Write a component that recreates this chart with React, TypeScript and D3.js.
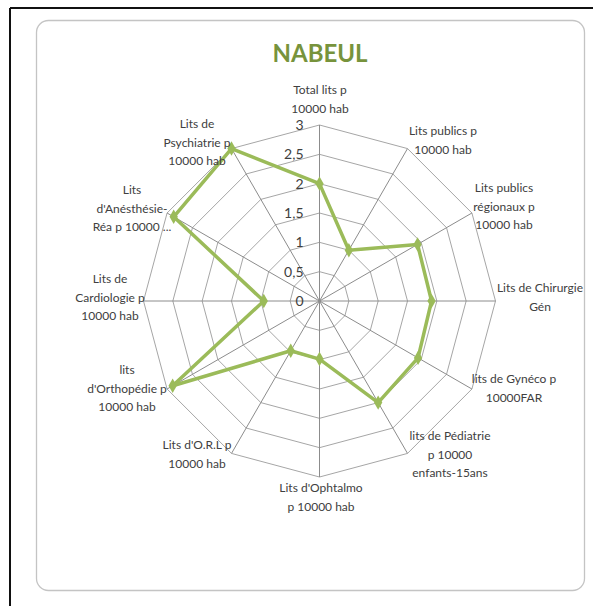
import React from 'react';
import * as d3 from 'd3';

const width = 593;
const height = 606;
const cx = 319.5;
const cy = 301;
const radius = 176;

// axis labels, clockwise from the top, one entry per line
const categories = [
  ['Total lits p', '10000 hab'],
  ['Lits publics p', '10000 hab'],
  ['Lits publics', 'régionaux p', '10000 hab'],
  ['Lits de Chirurgie', 'Gén'],
  ['lits de Gynéco p', '10000FAR'],
  ['lits de Pédiatrie', 'p 10000', 'enfants-15ans'],
  ["Lits d'Ophtalmo", 'p 10000 hab'],
  ["Lits d'O.R.L p", '10000 hab'],
  ['lits', "d'Orthopédie p", '10000 hab'],
  ['Lits de', 'Cardiologie p', '10000 hab'],
  ['Lits', "d'Anésthésie-", 'Réa p 10000 ...'],
  ['Lits de', 'Psychiatrie p', '10000 hab'],
];
const values = [2.0, 1.0, 1.93, 1.91, 1.94, 2.0, 0.99, 0.98, 2.89, 0.95, 2.87, 3.0];
const ticks = [0, 0.5, 1, 1.5, 2, 2.5, 3];
const tickLabels = ['0', '0,5', '1', '1,5', '2', '2,5', '3'];

// label centres (x, first line y)
const labelPos = [
  [320, 90], [443, 131], [504, 188], [540, 288], [514, 379], [450, 436],
  [321, 488], [197, 445], [127, 370], [110, 279], [132, 190], [197, 124],
];

const font = 'Lato, "Open Sans", sans-serif';

export default function App() {
  const r = d3.scaleLinear().domain([0, 3]).range([0, radius]);
  const angle = (i: number) => (i * 2 * Math.PI) / categories.length;
  const pt = (i: number, v: number): [number, number] => [
    cx + r(v) * Math.sin(angle(i)),
    cy - r(v) * Math.cos(angle(i)),
  ];

  const ringPath = (t: number) =>
    d3.line<number>().x((_, i) => pt(i, t)[0]).y((_, i) => pt(i, t)[1])
      .curve(d3.curveLinearClosed)(categories.map(() => t)) as string;

  const dataPath = d3.line<number>()
    .x((v, i) => pt(i, v)[0])
    .y((v, i) => pt(i, v)[1])
    .curve(d3.curveLinearClosed)(values) as string;

  return (
    <svg width={width} height={height} style={{ position: 'absolute', left: 0, top: 0, background: '#fff' }}>
      <line x1={10} y1={8} x2={width} y2={8} stroke="#111" strokeWidth={2} />
      <line x1={10} y1={8} x2={10} y2={height} stroke="#111" strokeWidth={2} />
      <rect x={36.5} y={20.5} width={548} height={570} rx={12} fill="#fff" stroke="#c4c4c4" strokeWidth={1.3} />

      <text x={320} y={62} textAnchor="middle" fontFamily={font} fontWeight="bold" fontSize={24} fill="#77933C">NABEUL</text>

      {ticks.slice(1).map((t) => (
        <path key={t} d={ringPath(t)} fill="none" stroke="#a6a6a6" strokeWidth={1} />
      ))}
      {categories.map((_, i) => {
        const [x, y] = pt(i, 3);
        return <line key={i} x1={cx} y1={cy} x2={x} y2={y} stroke="#8c8c8c" strokeWidth={1} />;
      })}

      {ticks.map((t, i) => (
        <text key={t} x={cx - 16} y={cy - r(t) + 5} textAnchor="end" fontFamily={font} fontSize={14} fill="#404040">{tickLabels[i]}</text>
      ))}

      <path d={dataPath} fill="none" stroke="#9BBB59" strokeWidth={3.5} strokeLinejoin="round" />
      {values.map((v, i) => {
        const [x, y] = pt(i, v);
        return <path key={i} d={d3.symbol(d3.symbolDiamond, 60)() as string} transform={`translate(${x},${y})`} fill="#9BBB59" />;
      })}

      {categories.map((lines, i) => (
        <text key={i} fontFamily={font} fontSize={12} fill="#404040" textAnchor="middle">
          {lines.map((l, j) => (
            <tspan key={j} x={labelPos[i][0]} y={labelPos[i][1] + 4 + j * 18.5}>{l}</tspan>
          ))}
        </text>
      ))}
    </svg>
  );
}
